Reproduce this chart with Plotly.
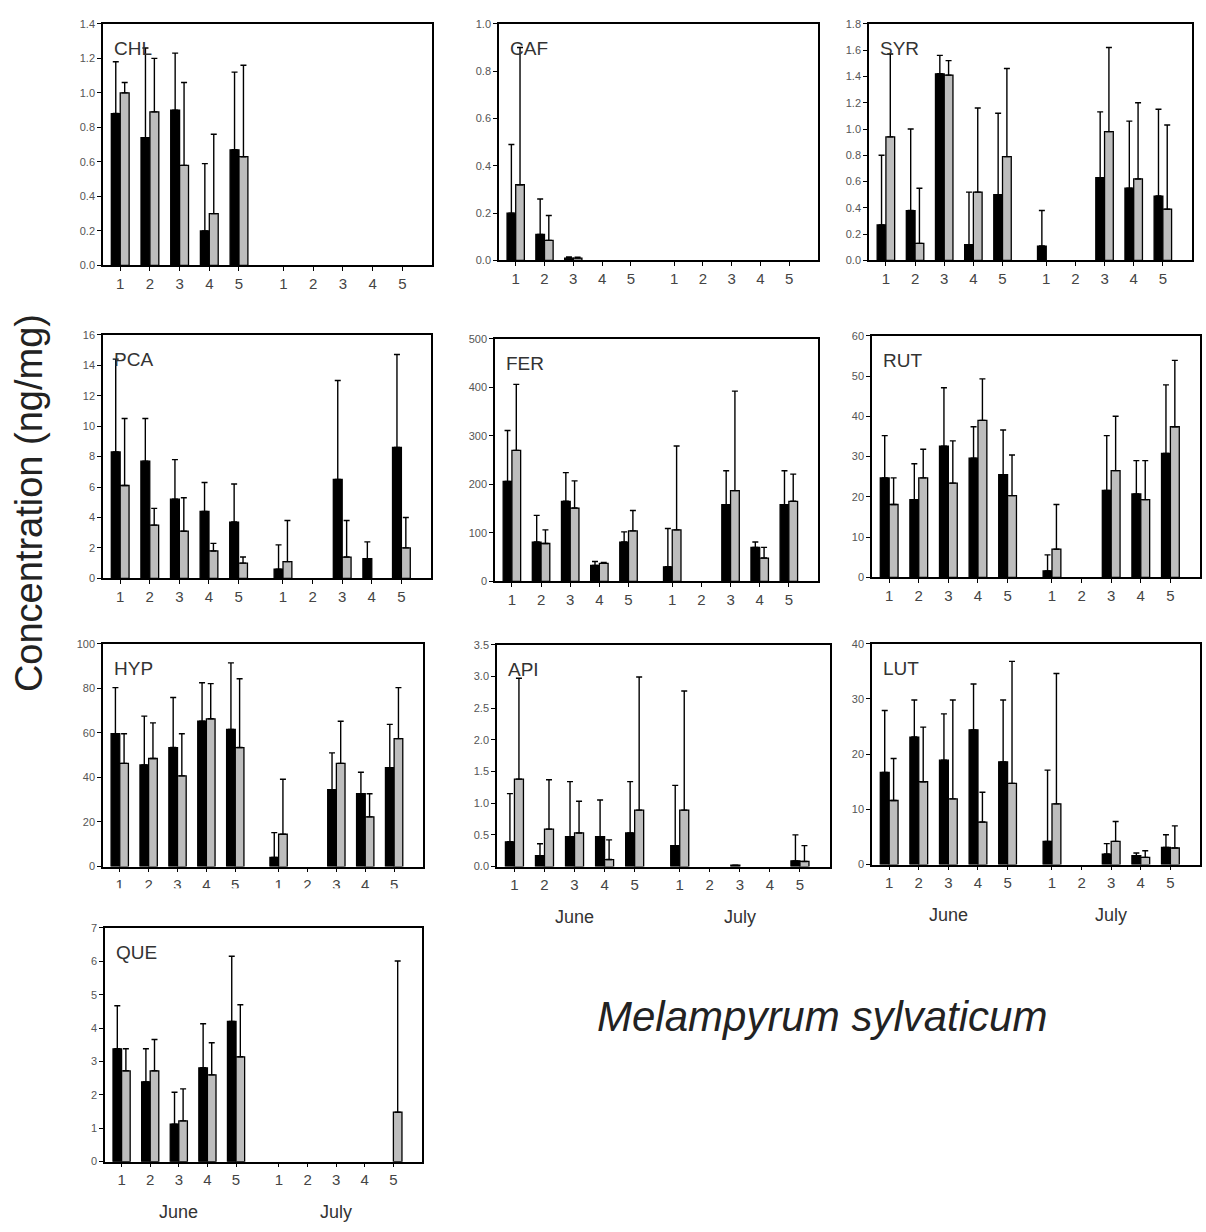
import plotly.graph_objects as go

W, H = 1206, 1232

# x positions: June days 1-5, July days 1-5 (gap between months)
x_pos = [1, 2, 3, 4, 5, 6.5, 7.5, 8.5, 9.5, 10.5]
tick_labels = ["1", "2", "3", "4", "5", "1", "2", "3", "4", "5"]

N = None
# ---- data: mean (black / grey) and upper error (SD) ----
chl_black = [0.88, 0.74, 0.90, 0.20, 0.67, N, N, N, N, N]
chl_black_sd = [0.30, 0.52, 0.33, 0.39, 0.45, N, N, N, N, N]
chl_grey = [1.00, 0.89, 0.58, 0.30, 0.63, N, N, N, N, N]
chl_grey_sd = [0.06, 0.31, 0.48, 0.46, 0.53, N, N, N, N, N]

caf_black = [0.20, 0.11, 0.01, N, N, N, N, N, N, N]
caf_black_sd = [0.29, 0.15, 0.005, N, N, N, N, N, N, N]
caf_grey = [0.32, 0.085, 0.01, N, N, N, N, N, N, N]
caf_grey_sd = [0.58, 0.105, 0.004, N, N, N, N, N, N, N]

syr_black = [0.27, 0.38, 1.42, 0.12, 0.50, 0.11, N, 0.63, 0.55, 0.49]
syr_black_sd = [0.53, 0.62, 0.14, 0.40, 0.62, 0.27, N, 0.50, 0.51, 0.66]
syr_grey = [0.94, 0.13, 1.41, 0.52, 0.79, N, N, 0.98, 0.62, 0.39]
syr_grey_sd = [0.63, 0.42, 0.11, 0.64, 0.67, N, N, 0.64, 0.58, 0.64]

pca_black = [8.3, 7.7, 5.2, 4.4, 3.7, 0.6, N, 6.5, 1.3, 8.6]
pca_black_sd = [6.1, 2.8, 2.6, 1.9, 2.5, 1.6, N, 6.5, 1.1, 6.1]
pca_grey = [6.1, 3.5, 3.1, 1.8, 1.0, 1.1, N, 1.4, N, 2.0]
pca_grey_sd = [4.4, 1.1, 2.2, 0.5, 0.4, 2.7, N, 2.4, N, 2.0]

fer_black = [206, 81, 165, 33, 81, 30, N, 158, 70, 158]
fer_black_sd = [105, 55, 59, 8, 21, 79, N, 70, 11, 70]
fer_grey = [270, 78, 151, 37, 104, 106, N, 187, 48, 165]
fer_grey_sd = [136, 28, 56, 2, 42, 173, N, 205, 22, 56]

rut_black = [24.7, 19.3, 32.6, 29.6, 25.5, 1.6, N, 21.6, 20.7, 30.8]
rut_black_sd = [10.5, 8.9, 14.5, 7.8, 11.1, 4.0, N, 13.6, 8.3, 17.0]
rut_grey = [18.1, 24.7, 23.4, 39.0, 20.3, 7.0, N, 26.5, 19.3, 37.4]
rut_grey_sd = [6.6, 7.1, 10.5, 10.3, 10.1, 11.1, N, 13.5, 9.7, 16.5]

hyp_black = [59.6, 45.6, 53.4, 65.2, 61.5, 4.1, N, 34.5, 32.7, 44.4]
hyp_black_sd = [20.7, 21.9, 22.5, 17.3, 29.9, 11.1, N, 16.5, 9.6, 19.4]
hyp_grey = [46.3, 48.5, 40.7, 66.3, 53.4, 14.5, N, 46.3, 22.3, 57.4]
hyp_grey_sd = [13.3, 16.0, 18.9, 15.8, 30.9, 24.7, N, 18.9, 10.4, 22.9]

api_black = [0.39, 0.17, 0.47, 0.47, 0.53, 0.33, N, 0.02, N, 0.09]
api_black_sd = [0.76, 0.19, 0.87, 0.58, 0.81, 0.95, N, 0.0, N, 0.41]
api_grey = [1.38, 0.59, 0.53, 0.11, 0.89, 0.89, N, N, N, 0.08]
api_grey_sd = [1.59, 0.78, 0.50, 0.31, 2.10, 1.88, N, N, N, 0.25]

lut_black = [16.7, 23.1, 18.9, 24.4, 18.6, 4.2, N, 1.9, 1.6, 3.1]
lut_black_sd = [11.2, 6.7, 8.4, 8.3, 11.2, 12.9, N, 1.9, 0.5, 2.3]
lut_grey = [11.6, 15.0, 11.9, 7.7, 14.7, 11.0, N, 4.2, 1.3, 3.0]
lut_grey_sd = [7.6, 9.9, 17.9, 5.4, 22.1, 23.6, N, 3.6, 1.2, 4.0]

que_black = [3.38, 2.39, 1.12, 2.81, 4.20, N, N, N, N, N]
que_black_sd = [1.29, 0.99, 0.96, 1.32, 1.95, N, N, N, N, N]
que_grey = [2.72, 2.72, 1.22, 2.60, 3.14, N, N, N, N, 1.48]
que_grey_sd = [0.66, 0.94, 0.96, 0.96, 1.56, N, N, N, N, 4.53]

panels = [
    # name, black, black_sd, grey, grey_sd, ymax, dtick, tickformat, box px (l, r, t, b), month labels
    ("CHL", chl_black, chl_black_sd, chl_grey, chl_grey_sd, 1.4, 0.2, ".1f", (103, 432, 18, 262), False),
    ("CAF", caf_black, caf_black_sd, caf_grey, caf_grey_sd, 1.0, 0.2, ".1f", (499, 818, 18, 257), False),
    ("SYR", syr_black, syr_black_sd, syr_grey, syr_grey_sd, 1.8, 0.2, ".1f", (869, 1192, 18, 257), False),
    ("PCA", pca_black, pca_black_sd, pca_grey, pca_grey_sd, 16, 2, "d", (103, 431, 332, 578), False),
    ("FER", fer_black, fer_black_sd, fer_grey, fer_grey_sd, 500, 100, "d", (495, 818, 336, 581), False),
    ("RUT", rut_black, rut_black_sd, rut_grey, rut_grey_sd, 60, 10, "d", (872, 1200, 333, 577), False),
    ("HYP", hyp_black, hyp_black_sd, hyp_grey, hyp_grey_sd, 100, 20, "d", (103, 423, 644, 869), False),
    ("API", api_black, api_black_sd, api_grey, api_grey_sd, 3.5, 0.5, ".1f", (497, 830, 645, 869), True),
    ("LUT", lut_black, lut_black_sd, lut_grey, lut_grey_sd, 40, 10, "d", (872, 1200, 644, 867), True),
    ("QUE", que_black, que_black_sd, que_grey, que_grey_sd, 7, 1, "d", (105, 422, 931, 1167), True),
]

BAR_W = 0.3
fig = go.Figure()
layout = {}
annotations = []

for i, (name, blk, blk_sd, gry, gry_sd, ymax, dtick, tfmt, box, months) in enumerate(panels):
    k = "" if i == 0 else str(i + 1)
    xa, ya = "x" + k, "y" + k
    l, r, t, b = box
    for vals, sd, col, off in ((blk, blk_sd, "black", -BAR_W), (gry, gry_sd, "#bdbdbd", 0.0)):
        xs = [x for x, v in zip(x_pos, vals) if v is not None]
        ys = [v for v in vals if v is not None]
        es = [s if s is not None else 0 for v, s in zip(vals, sd) if v is not None]
        fig.add_trace(go.Bar(
            x=xs, y=ys, width=BAR_W, offset=off, xaxis=xa, yaxis=ya,
            marker=dict(color=col, line=dict(color="black", width=1.3)),
            error_y=dict(type="data", symmetric=False, array=es, arrayminus=[0] * len(es),
                         color="black", thickness=1.4, width=3),
            showlegend=False, hoverinfo="skip",
        ))
    axis_common = dict(showline=True, linecolor="black", linewidth=1.5, mirror=True,
                       showgrid=False, zeroline=False, ticks="outside", ticklen=4,
                       tickcolor="black", tickwidth=1.2)
    layout["xaxis" + k] = dict(
        domain=[l / W, r / W], anchor=ya, range=[0.42, 11.5],
        tickmode="array", tickvals=x_pos, ticktext=tick_labels,
        tickfont=dict(family="Liberation Sans, Arial", size=15, color="#444"),
        **axis_common)
    layout["yaxis" + k] = dict(
        domain=[1 - b / H, 1 - t / H], anchor=xa, range=[0, ymax],
        tickmode="linear", tick0=0, dtick=dtick, tickformat=tfmt,
        tickfont=dict(family="Liberation Sans, Arial", size=11, color="#555"),
        **axis_common)
    annotations.append(dict(
        text=name, xref="paper", yref="paper", x=(l + 9) / W, y=1 - (t + 25) / H,
        xanchor="left", yanchor="middle", showarrow=False,
        font=dict(family="Liberation Sans, Arial", size=19, color="#333")))
    if months:
        for mx, mt in ((3, "June"), (8.5, "July")):
            annotations.append(dict(
                text=mt, xref=xa, yref="paper", x=mx, y=1 - (b + 51) / H,
                xanchor="center", yanchor="middle", showarrow=False,
                font=dict(family="Liberation Sans, Arial", size=18, color="#333")))

annotations.append(dict(
    text="Concentration (ng/mg)", xref="paper", yref="paper", x=29 / W, y=1 - 502 / H,
    textangle=-90, showarrow=False, xanchor="center", yanchor="middle",
    font=dict(family="Liberation Sans, Arial", size=38, color="#222")))
annotations.append(dict(
    text="<i>Melampyrum sylvaticum</i>", xref="paper", yref="paper", x=822 / W, y=1 - 1020 / H,
    showarrow=False, xanchor="center", yanchor="middle",
    font=dict(family="Liberation Sans, Arial", size=42, color="#222")))

# the lower half of HYP's x tick labels is hidden in the original figure
shapes = [dict(type="rect", xref="paper", yref="paper", layer="above",
               x0=95 / W, x1=440 / W, y0=1 - 904 / H, y1=1 - 891 / H,
               fillcolor="white", line=dict(width=0))]

fig.update_layout(
    width=W, height=H, margin=dict(l=0, r=0, t=0, b=0),
    paper_bgcolor="white", plot_bgcolor="white",
    annotations=annotations, shapes=shapes, **layout)

fig.write_html("out.html", config={"displayModeBar": False},
               post_script="document.body.style.margin='0';")
